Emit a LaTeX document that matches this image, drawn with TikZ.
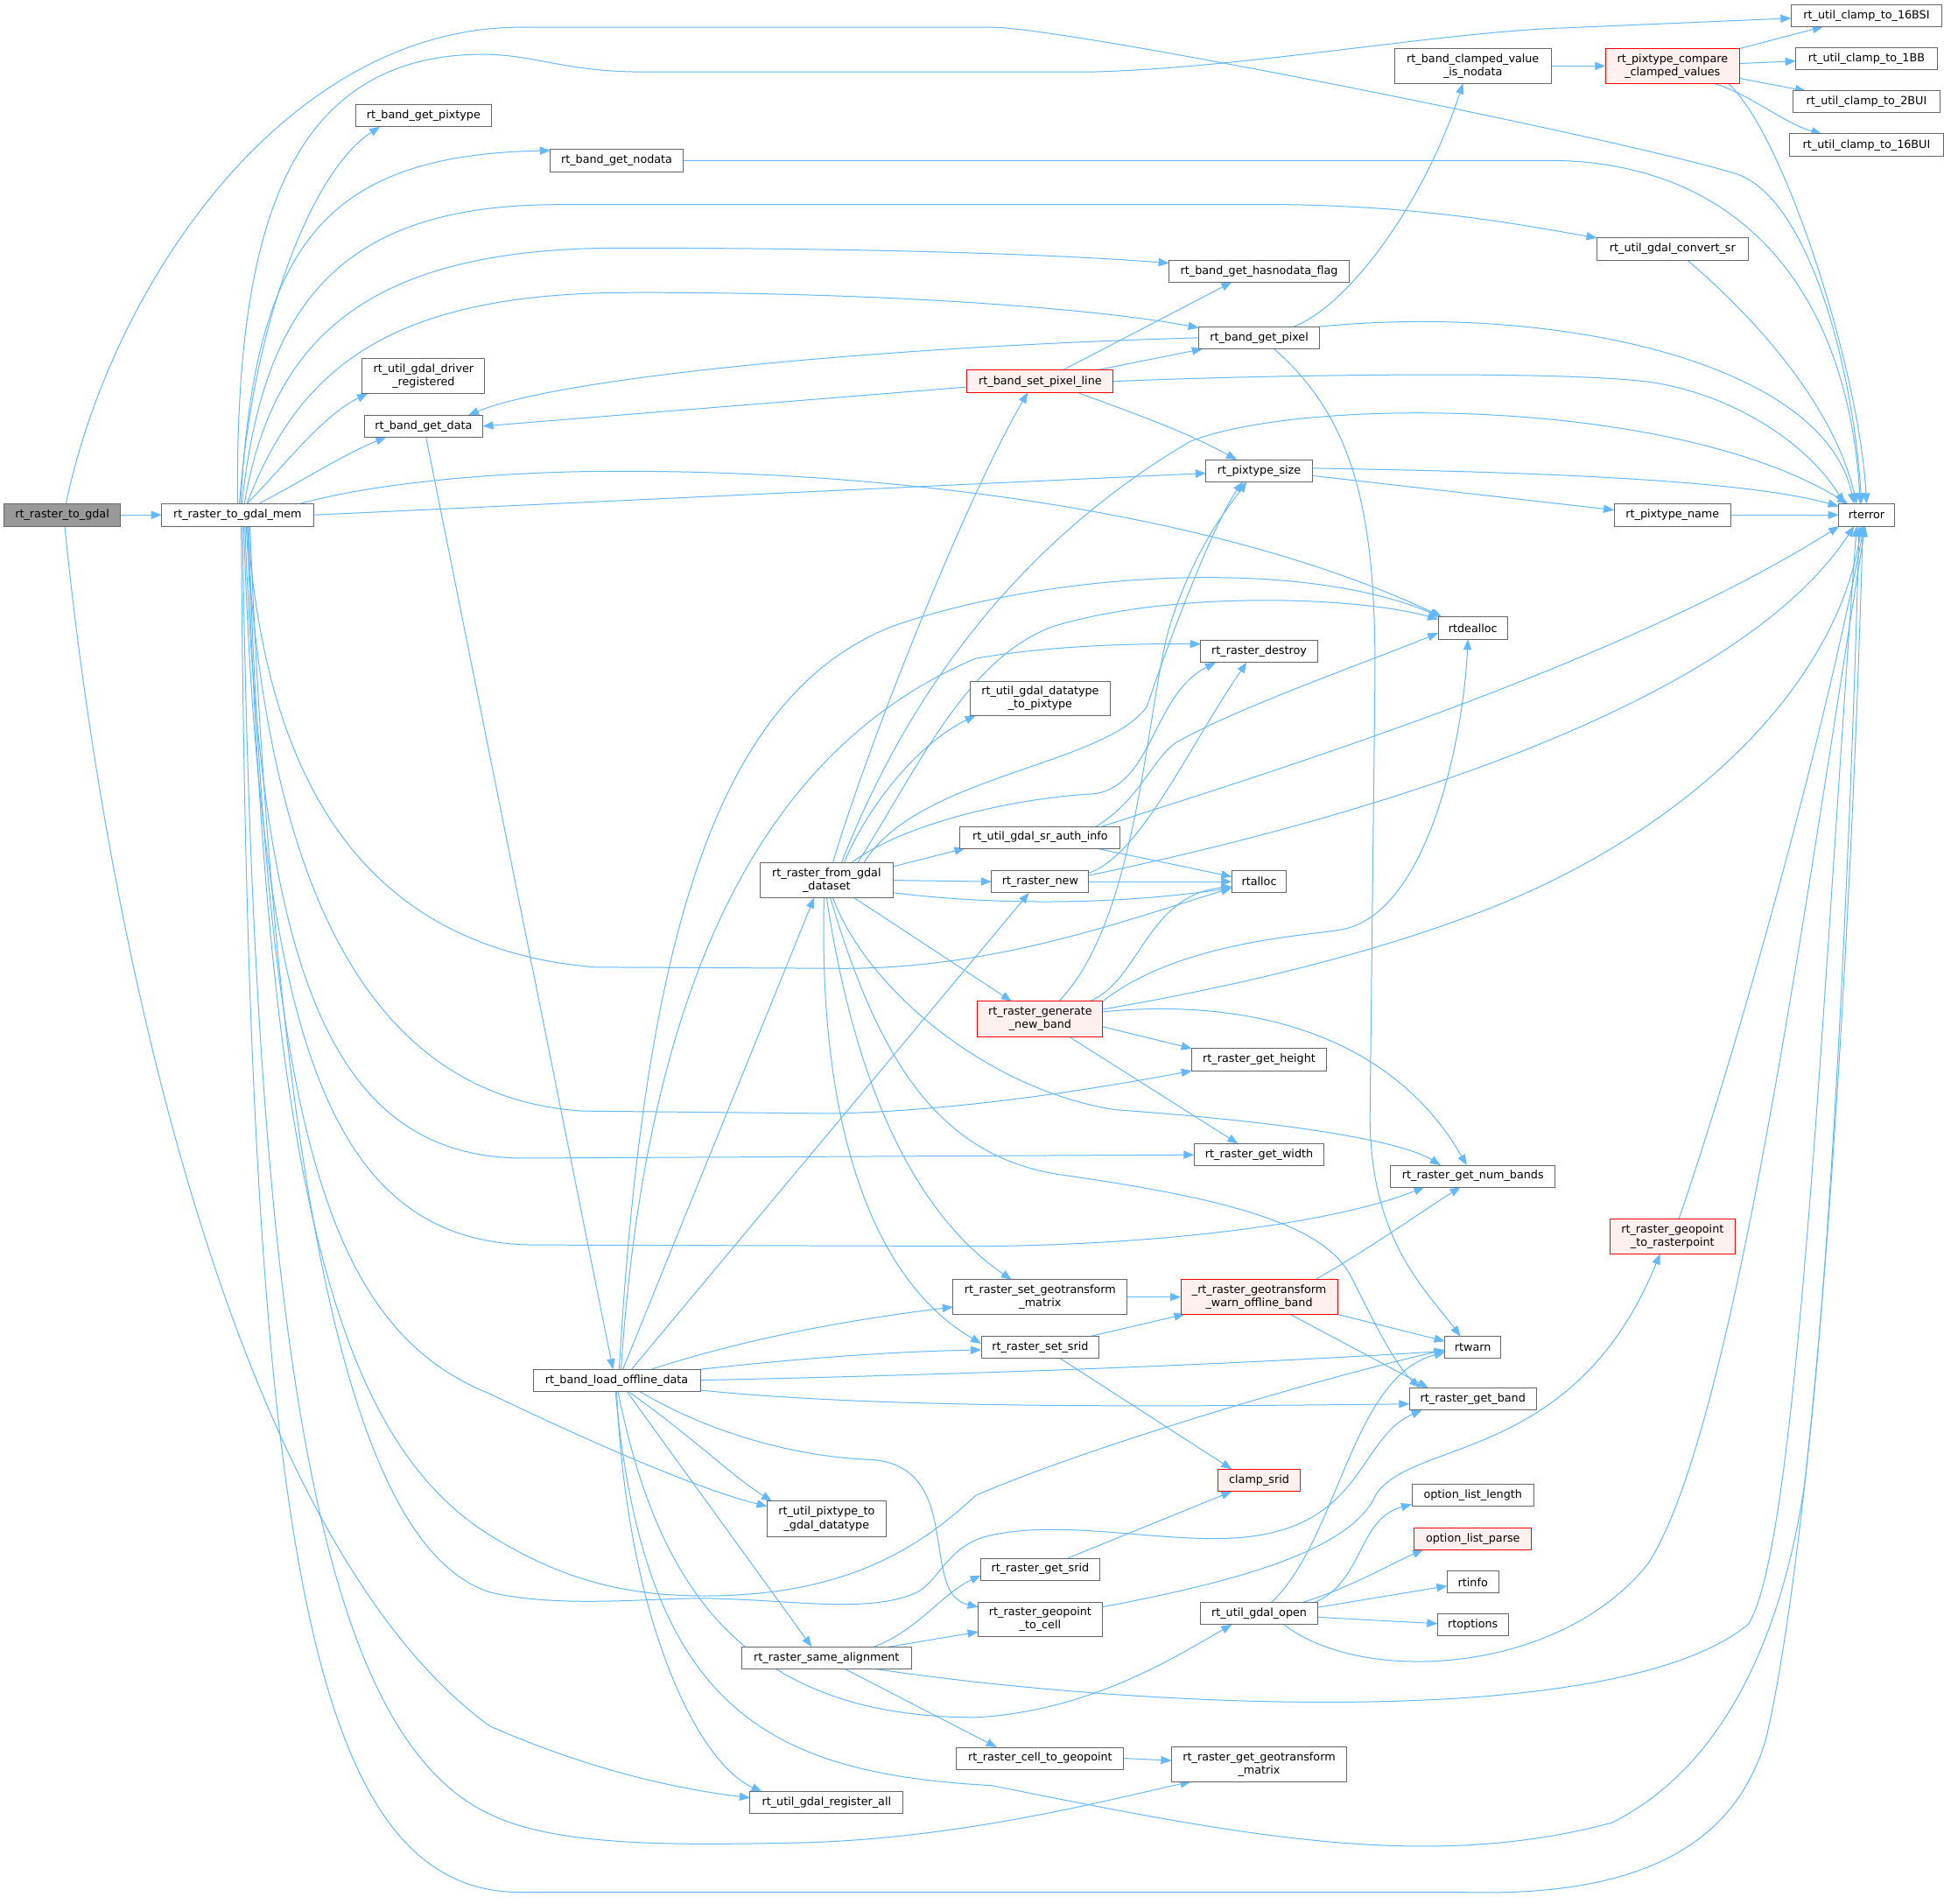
\documentclass[tikz,border=0pt]{standalone}
\usepackage{fontspec}
\setmainfont{DejaVu Sans}
\usetikzlibrary{arrows.meta}
\definecolor{edgec}{HTML}{63B8FF}
\definecolor{nodeb}{HTML}{666666}
\definecolor{rootf}{HTML}{999999}
\definecolor{redf}{HTML}{FFF0F0}
\pgfdeclarelayer{back}
\pgfdeclarelayer{bg}
\pgfsetlayers{back,bg,main}
\begin{document}
\begin{tikzpicture}[x=1pt,y=-1pt,
  nb/.style={draw=nodeb, fill=white, line width=0.7pt, inner sep=0pt, outer sep=0pt,
    font=\fontsize{9}{10.8}\selectfont, align=center, text=black},
  rootn/.style={nb, fill=rootf},
  redn/.style={nb, draw=red, fill=redf},
  ed/.style={draw=edgec, line width=0.7pt, -{Triangle[length=8.5pt,width=6.5pt]}},
]
\useasboundingbox (0,0) rectangle (1568,1535);
% ---------------- nodes ----------------
\node[rootn, minimum width=93.8pt, minimum height=18pt] (togdal) at (50.2,415.3) {rt\_raster\_to\_gdal};
\node[nb, minimum width=122.5pt, minimum height=18pt] (mem) at (191.6,415.3) {rt\_raster\_to\_gdal\_mem};
\node[nb, minimum width=109.4pt, minimum height=18pt] (pixtype) at (341.6,93.2) {rt\_band\_get\_pixtype};
\node[nb, minimum width=107pt, minimum height=18pt] (nodata) at (497.4,129.4) {rt\_band\_get\_nodata};
\node[nb, minimum width=99pt, minimum height=28pt] (drvreg) at (341.6,303.4) {rt\_util\_gdal\_driver\\\_registered};
\node[nb, minimum width=95.6pt, minimum height=17.6pt] (getdata) at (341.6,343.7) {rt\_band\_get\_data};
\node[nb, minimum width=134.8pt, minimum height=17.6pt] (load) at (497.4,1113.1) {rt\_band\_load\_offline\_data};
\node[nb, minimum width=106.9pt, minimum height=28pt] (fromds) at (666.7,709.9) {rt\_raster\_from\_gdal\\\_dataset};
\node[nb, minimum width=95.7pt, minimum height=28.4pt] (px2dt) at (666.7,1224.9) {rt\_util\_pixtype\_to\\\_gdal\_datatype};
\node[nb, minimum width=136.7pt, minimum height=17.9pt] (samealign) at (666.7,1337.1) {rt\_raster\_same\_alignment};
\node[nb, minimum width=123.4pt, minimum height=17.7pt] (regall) at (666.7,1453.9) {rt\_util\_gdal\_register\_all};
\node[redn, minimum width=118pt, minimum height=18pt] (setpix) at (839,307.6) {rt\_band\_set\_pixel\_line};
\node[nb, minimum width=112.9pt, minimum height=27.7pt] (dt2px) at (839,563.1) {rt\_util\_gdal\_datatype\\\_to\_pixtype};
\node[nb, minimum width=129.2pt, minimum height=17.6pt] (srauth) at (839,675.3) {rt\_util\_gdal\_sr\_auth\_info};
\node[nb, minimum width=78.4pt, minimum height=18pt] (rnew) at (839,711) {rt\_raster\_new};
\node[redn, minimum width=100.9pt, minimum height=29pt] (genband) at (839,822) {rt\_raster\_generate\\\_new\_band};
\node[nb, minimum width=140.5pt, minimum height=27.8pt] (setgt) at (839,1046) {rt\_raster\_set\_geotransform\\\_matrix};
\node[nb, minimum width=95pt, minimum height=17.7pt] (setsrid) at (839,1086.6) {rt\_raster\_set\_srid};
\node[nb, minimum width=95.7pt, minimum height=17.6pt] (getsrid) at (839,1265.5) {rt\_raster\_get\_srid};
\node[nb, minimum width=99.9pt, minimum height=28pt] (geo2cell) at (839,1306) {rt\_raster\_geopoint\\\_to\_cell};
\node[nb, minimum width=134.8pt, minimum height=17.7pt] (cell2geo) at (839,1418) {rt\_raster\_cell\_to\_geopoint};
\node[nb, minimum width=145.2pt, minimum height=17.6pt] (hasnd) at (1015.6,218.7) {rt\_band\_get\_hasnodata\_flag};
\node[nb, minimum width=97.3pt, minimum height=18pt] (getpix) at (1015.6,272.4) {rt\_band\_get\_pixel};
\node[nb, minimum width=85.7pt, minimum height=17.6pt] (pxsize) at (1015.6,379.6) {rt\_pixtype\_size};
\node[nb, minimum width=94.3pt, minimum height=17.7pt] (destroy) at (1015.6,525.4) {rt\_raster\_destroy};
\node[nb, minimum width=44.1pt, minimum height=18pt] (rtalloc) at (1015.6,711) {rtalloc};
\node[nb, minimum width=108.4pt, minimum height=17.9pt] (height) at (1015.6,854.6) {rt\_raster\_get\_height};
\node[nb, minimum width=104.8pt, minimum height=17.9pt] (width) at (1015.6,931.3) {rt\_raster\_get\_width};
\node[redn, minimum width=126.4pt, minimum height=27.8pt] (warnoff) at (1015.6,1046) {\_rt\_raster\_geotransform\\\_warn\_offline\_band};
\node[redn, minimum width=66.1pt, minimum height=17.9pt] (clampsrid) at (1015.6,1193.8) {clamp\_srid};
\node[nb, minimum width=95.1pt, minimum height=17.9pt] (gdalopen) at (1015.6,1301.2) {rt\_util\_gdal\_open};
\node[nb, minimum width=141.4pt, minimum height=28.1pt] (getgt) at (1015.6,1422.8) {rt\_raster\_get\_geotransform\\\_matrix};
\node[nb, minimum width=126.2pt, minimum height=28pt] (clampnd) at (1188,53.2) {rt\_band\_clamped\_value\\\_is\_nodata};
\node[nb, minimum width=56pt, minimum height=18pt] (rtdealloc) at (1188,506.5) {rtdealloc};
\node[nb, minimum width=132.9pt, minimum height=17.6pt] (nbands) at (1188,948.5) {rt\_raster\_get\_num\_bands};
\node[nb, minimum width=45.2pt, minimum height=17.7pt] (rtwarn) at (1188,1086.6) {rtwarn};
\node[nb, minimum width=102.2pt, minimum height=17.9pt] (getband) at (1188,1128.2) {rt\_raster\_get\_band};
\node[nb, minimum width=98.4pt, minimum height=17.6pt] (optlen) at (1188,1206.1) {option\_list\_length};
\node[redn, minimum width=94.8pt, minimum height=17.7pt] (optparse) at (1188,1241) {option\_list\_parse};
\node[nb, minimum width=41.4pt, minimum height=17.7pt] (rtinfo) at (1188,1276) {rtinfo};
\node[nb, minimum width=57pt, minimum height=18pt] (rtoptions) at (1188,1310.4) {rtoptions};
\node[redn, minimum width=108pt, minimum height=28pt] (cmp) at (1349,53.2) {rt\_pixtype\_compare\\\_clamped\_values};
\node[nb, minimum width=121.8pt, minimum height=18pt] (convsr) at (1349,200.9) {rt\_util\_gdal\_convert\_sr};
\node[nb, minimum width=94.2pt, minimum height=18pt] (pxname) at (1349,415.3) {rt\_pixtype\_name};
\node[redn, minimum width=100.6pt, minimum height=27.8pt] (geo2rp) at (1349,997.3) {rt\_raster\_geopoint\\\_to\_rasterpoint};
\node[nb, minimum width=121.6pt, minimum height=17.6pt] (c16bsi) at (1505.5,12.7) {rt\_util\_clamp\_to\_16BSI};
\node[nb, minimum width=114pt, minimum height=17.6pt] (c1bb) at (1505.5,47.3) {rt\_util\_clamp\_to\_1BB};
\node[nb, minimum width=118pt, minimum height=17.7pt] (c2bui) at (1505.5,82.2) {rt\_util\_clamp\_to\_2BUI};
\node[nb, minimum width=123.8pt, minimum height=18pt] (c16bui) at (1505.5,117) {rt\_util\_clamp\_to\_16BUI};
\node[nb, minimum width=45pt, minimum height=18pt] (rterror) at (1505.5,415.3) {rterror};
% ---------------- edges ----------------
\begin{pgfonlayer}{back}
\fill[white] (0,0) rectangle (1568,1535);
\end{pgfonlayer}
\begin{pgfonlayer}{bg}
% rt_raster_to_gdal
\draw[ed] (togdal.east) -- (mem.west);
\draw[ed] ([xshift=3]togdal.north) .. controls (90,230) and (230,22) .. (420,22) -- (800,22) .. controls (860,22) and (1300,110) .. (1400,140) .. controls (1460,160) and (1495,300) .. ([xshift=-4]rterror.north);
\draw[ed] ([xshift=2]togdal.south) .. controls (90,800) and (200,1250) .. (395,1392) .. controls (470,1425) and (540,1442) .. ([yshift=4]regall.west);
% rt_raster_to_gdal_mem, upper fan
\draw[ed] (mem.north) .. controls (190,200) and (225,50) .. (380,44) .. controls (430,42) and (450,58) .. (520,58) -- (880,58) .. controls (1000,55) and (1150,28) .. (1250,23) -- ([yshift=-2]c16bsi.west);
\draw[ed] ([xshift=1.5]mem.north) .. controls (205,250) and (255,135) .. ([xshift=-35]pixtype.south);
\draw[ed] ([xshift=2.5]mem.north) .. controls (205,200) and (260,125) .. ([yshift=8]nodata.west);
\draw[ed] ([xshift=3.5]mem.north) .. controls (212,250) and (270,165) .. (450,165) -- (1040,165) .. controls (1150,167) and (1220,180) .. (convsr.north west);
\draw[ed] ([xshift=5.5]mem.north) .. controls (220,270) and (300,200) .. (500,200) .. controls (700,200) and (850,205) .. ([yshift=6.5]hasnd.west);
\draw[ed] ([xshift=7.5]mem.north) .. controls (240,300) and (310,238) .. (500,236) .. controls (700,235) and (880,248) .. ([yshift=8]getpix.west);
\draw[ed] ([xshift=7.5]mem.north) .. controls (230,375) and (260,335) .. ([xshift=-45]drvreg.south);
\draw[ed] ([xshift=17]mem.north) .. controls (240,390) and (280,365) .. ([xshift=-30]getdata.south);
\draw[ed] ([xshift=50]mem.north) .. controls (300,390) and (400,380) .. (500,380) .. controls (750,380) and (1000,420) .. ([xshift=3]rtdealloc.north west);
\draw[ed] (mem.east) -- ([yshift=-2]pxsize.west);
% rt_raster_to_gdal_mem, lower fan
\draw[ed] ([xshift=8]mem.south) .. controls (215,640) and (300,765) .. (480,780) -- (680,781) .. controls (800,781) and (900,745) .. ([yshift=-5]rtalloc.west);
\draw[ed] ([xshift=7]mem.south) .. controls (215,720) and (300,885) .. (470,896) -- (670,898) .. controls (780,896) and (900,875) .. (height.south west);
\draw[ed] ([xshift=6]mem.south) .. controls (210,780) and (265,932) .. (420,934) -- (width.west);
\draw[ed] ([xshift=5]mem.south) .. controls (210,850) and (270,1002) .. (430,1004) -- (800,1005) .. controls (950,1003) and (1080,985) .. ([xshift=-39]nbands.south);
\draw[ed] ([xshift=9]mem.south) .. controls (215,900) and (260,1070) .. (395,1124) .. controls (470,1160) and (560,1200) .. ([yshift=10]px2dt.west);
\draw[ed] ([xshift=8]mem.south) .. controls (215,950) and (270,1160) .. (395,1238) .. controls (450,1272) and (500,1287) .. (568,1287) .. controls (680,1287) and (740,1250) .. (787,1206) .. controls (870,1170) and (1050,1115) .. ([yshift=-2]rtwarn.west);
\draw[ed] ([xshift=10]mem.south) .. controls (225,1000) and (290,1250) .. (395,1284) .. controls (450,1297) and (520,1289) .. (568,1289) .. controls (640,1290) and (700,1302) .. (740,1284) .. controls (760,1272) and (765,1245) .. (800,1238) .. controls (860,1225) and (940,1245) .. (1000,1240) .. controls (1100,1232) and (1095,1160) .. ([xshift=-41]getband.south);
\draw[ed] ([xshift=4]mem.south) .. controls (205,1100) and (260,1400) .. (395,1463) .. controls (450,1490) and (550,1488) .. (650,1486) .. controls (780,1482) and (900,1450) .. ([xshift=-55]getgt.south);
\draw[ed] ([xshift=3]mem.south) .. controls (200,1250) and (250,1526) .. (420,1526) -- (1180,1526) .. controls (1320,1530) and (1400,1490) .. (1425,1400) .. controls (1470,1200) and (1495,700) .. ([xshift=-3]rterror.south);
% rt_band_get_data
\draw[ed] ([xshift=2]getdata.south) -- ([xshift=-3]load.north);
% rt_band_get_pixel
\draw[ed] (getpix.west) .. controls (700,280) and (450,305) .. ([xshift=36]getdata.north);
\draw[ed] ([xshift=28]getpix.north) .. controls (1090,245) and (1150,160) .. ([xshift=-8]clampnd.south);
\draw[ed] (getpix.north east) .. controls (1250,245) and (1470,290) .. ([xshift=-10]rterror.north);
\draw[ed] ([xshift=12]getpix.south) .. controls (1095,340) and (1110,420) .. (1109,550) -- (1105,900) .. controls (1105,1000) and (1150,1040) .. ([xshift=-10]rtwarn.north);
% rt_band_set_pixel_line
\draw[ed] ([yshift=-4.5]setpix.west) -- (getdata.east);
\draw[ed] ([xshift=18]setpix.north) -- ([xshift=-22]hasnd.south);
\draw[ed] ([xshift=45]setpix.north) -- ([xshift=3]getpix.south west);
\draw[ed] (setpix.east) .. controls (1000,303) and (1250,298) .. (1330,308) .. controls (1400,318) and (1460,360) .. ([xshift=-18]rterror.north);
\draw[ed] ([xshift=30]setpix.south) .. controls (920,335) and (960,350) .. ([xshift=-18]pxsize.north);
% rt_pixtype_size etc.
\draw[ed] ([yshift=2]pxsize.east) .. controls (1200,380) and (1400,385) .. ([yshift=7]rterror.west);
\draw[ed] ([yshift=-4]pxsize.east) -- ([yshift=4]pxname.west);
\draw[ed] (pxname.east) -- (rterror.west);
\draw[ed] ([xshift=12]convsr.south) .. controls (1420,260) and (1480,330) .. ([xshift=-8]rterror.north);
\draw[ed] (nodata.east) -- (1250,129.4) .. controls (1400,130) and (1490,230) .. ([xshift=-5]rterror.north);
% clamped values
\draw[ed] (clampnd.east) -- (cmp.west);
\draw[ed] (cmp.north east) -- ([xshift=-35]c16bsi.south);
\draw[ed] ([yshift=2]cmp.east) -- ([yshift=-2]c1bb.west);
\draw[ed] ([yshift=-10]cmp.east) -- ([xshift=-49]c2bui.north);
\draw[ed] ([xshift=33]cmp.south) .. controls (1410,75) and (1440,100) .. ([xshift=-36]c16bui.north);
\draw[ed] ([xshift=45]cmp.south) .. controls (1440,110) and (1500,300) .. (rterror.north);
% rt_band_load_offline_data
\draw[ed] ([xshift=5]load.north) -- ([xshift=-10]fromds.south);
\draw[ed] ([xshift=2]load.north) .. controls (520,750) and (580,560) .. (720,505) .. controls (850,460) and (1050,450) .. ([xshift=2]rtdealloc.north west);
\draw[ed] ([xshift=3.5]load.north) .. controls (520,820) and (600,610) .. (787,531) .. controls (850,520) and (920,519) .. ([yshift=6]destroy.west);
\draw[ed] ([xshift=12]load.north) -- ([xshift=-9]rnew.south);
\draw[ed] ([xshift=28]load.north) .. controls (600,1080) and (680,1065) .. ([yshift=-8]setgt.west);
\draw[ed] (load.north east) .. controls (650,1095) and (720,1090) .. ([yshift=-2]setsrid.west);
\draw[ed] (load.east) .. controls (800,1108) and (1000,1100) .. ([yshift=-3]rtwarn.west);
\draw[ed] ([yshift=-8]load.east) .. controls (700,1135) and (900,1135) .. ([yshift=-4]getband.west);
\draw[ed] ([xshift=9]load.south) .. controls (560,1160) and (590,1190) .. ([xshift=-44]px2dt.north);
\draw[ed] ([xshift=8]load.south) -- ([xshift=-12]samealign.north);
\draw[ed] ([xshift=18]load.south) .. controls (580,1160) and (650,1175) .. (700,1177) .. controls (780,1180) and (740,1285) .. ([yshift=10]geo2cell.west);
\draw[ed] ([xshift=1]load.south) .. controls (530,1280) and (600,1385) .. (787,1385) .. controls (880,1380) and (950,1335) .. ([xshift=-22]gdalopen.south);
\draw[ed] (load.south) .. controls (505,1300) and (560,1420) .. ([xshift=-52]regall.north);
\draw[ed] ([xshift=-1]load.south) .. controls (520,1380) and (620,1430) .. (800,1440) .. controls (1000,1480) and (1150,1510) .. (1300,1470) .. controls (1400,1420) and (1440,1300) .. (1455,1200) .. controls (1480,1000) and (1495,600) .. ([xshift=-6]rterror.south);
% rt_raster_from_gdal_dataset
\draw[ed] ([xshift=5]fromds.north) .. controls (700,600) and (780,400) .. ([xshift=-10]setpix.south);
\draw[ed] ([xshift=12]fromds.north) .. controls (720,590) and (800,450) .. (960,356) .. controls (1050,320) and (1350,320) .. ([xshift=-15]rterror.north);
\draw[ed] ([xshift=14]fromds.north) .. controls (700,650) and (740,600) .. ([xshift=-52]dt2px.south);
\draw[ed] ([xshift=25]fromds.north) .. controls (740,620) and (780,530) .. (850,505) .. controls (950,475) and (1100,482) .. ([yshift=7]rtdealloc.west);
\draw[ed] ([xshift=20]fromds.north) .. controls (720,670) and (800,645) .. (884,640) .. controls (930,632) and (930,560) .. ([xshift=-35]destroy.south);
\draw[ed] ([xshift=30]fromds.north) .. controls (740,625) and (890,618) .. (925,570) .. controls (945,510) and (980,420) .. ([xshift=-13]pxsize.south);
\draw[ed] ([yshift=-3]fromds.north east) -- ([xshift=4]srauth.south west);
\draw[ed] (fromds.east) -- (rnew.west);
\draw[ed] ([yshift=-10]fromds.east) .. controls (800,730) and (900,730) .. ([yshift=-5]rtalloc.west);
\draw[ed] ([xshift=22]fromds.south) -- ([xshift=-23]genband.north);
\draw[ed] ([xshift=5]fromds.south) .. controls (700,800) and (800,880) .. (900,895) .. controls (1040,905) and (1130,920) .. ([xshift=-26]nbands.north);
\draw[ed] ([xshift=3]fromds.south) .. controls (710,860) and (760,935) .. (860,948) .. controls (1000,968) and (1070,990) .. (1090,1030) .. controls (1110,1070) and (1125,1100) .. ([xshift=-43]getband.north);
\draw[ed] (fromds.south) .. controls (690,880) and (740,980) .. ([xshift=-23]setgt.north);
\draw[ed] ([xshift=-2]fromds.south) .. controls (660,900) and (700,1030) .. ([yshift=3]setsrid.west);
% rt_util_gdal_sr_auth_info
\draw[ed] ([xshift=45]srauth.north) .. controls (920,645) and (930,610) .. (950,598) .. controls (1000,570) and (1100,535) .. ([yshift=-4]rtdealloc.west);
\draw[ed] ([xshift=45]srauth.south) -- ([yshift=4]rtalloc.west);
\draw[ed] ([xshift=50]srauth.north) .. controls (1000,630) and (1300,540) .. ([xshift=-22]rterror.south);
% rt_raster_new
\draw[ed] (rnew.east) -- (rtalloc.west);
\draw[ed] ([yshift=7]rnew.east) .. controls (920,690) and (960,600) .. ([xshift=-10]destroy.south);
\draw[ed] ([yshift=5]rnew.east) .. controls (1100,660) and (1400,570) .. ([xshift=-10]rterror.south);
% rt_raster_generate_new_band
\draw[ed] ([xshift=40]genband.north) .. controls (920,790) and (925,722) .. ([yshift=-4]rtalloc.west);
\draw[ed] (genband.north east) .. controls (950,760) and (1050,755) .. (1080,750) .. controls (1150,740) and (1180,600) .. ([xshift=-4]rtdealloc.south);
\draw[ed] ([yshift=8]genband.east) .. controls (1000,795) and (1100,770) .. (1179,741) .. controls (1350,680) and (1480,560) .. ([xshift=-4]rterror.south);
\draw[ed] ([xshift=15]genband.north) .. controls (920,740) and (925,560) .. (945,500) .. controls (965,440) and (990,410) .. ([xshift=-10]pxsize.south);
\draw[ed] ([yshift=-6]genband.east) -- (height.north west);
\draw[ed] ([xshift=24]genband.south) -- ([xshift=-17]width.north);
\draw[ed] ([yshift=6]genband.east) .. controls (1000,805) and (1120,830) .. ([xshift=-5]nbands.north);
% geotransform / srid
\draw[ed] (setgt.east) -- (warnoff.west);
\draw[ed] ([xshift=40]setsrid.north) -- ([xshift=-60]warnoff.south);
\draw[ed] ([xshift=16]setsrid.south) -- ([xshift=-22]clampsrid.north);
\draw[ed] ([xshift=45]warnoff.north) .. controls (1100,1010) and (1150,975) .. ([xshift=-10]nbands.south);
\draw[ed] ([yshift=-14]warnoff.east) -- ([yshift=5]rtwarn.west);
\draw[ed] ([xshift=25]warnoff.south) -- ([xshift=-36]getband.north);
\draw[ed] ([xshift=22]getsrid.north) -- ([xshift=-22]clampsrid.south);
\draw[ed] ([yshift=10]geo2cell.east) .. controls (1000,1275) and (1090,1250) .. (1110,1205) .. controls (1140,1160) and (1270,1180) .. ([xshift=-10]geo2rp.south);
\draw[ed] ([xshift=5]geo2rp.north) .. controls (1400,850) and (1470,600) .. ([xshift=-2]rterror.south);
% rt_util_gdal_open
\draw[ed] ([xshift=45]gdalopen.north) .. controls (1100,1275) and (1095,1225) .. ([yshift=-7]optlen.west);
\draw[ed] ([xshift=35]gdalopen.north) .. controls (1090,1280) and (1120,1262) .. ([xshift=-40]optparse.south);
\draw[ed] ([yshift=5]gdalopen.east) -- ([yshift=-3]rtinfo.west);
\draw[ed] ([yshift=-3]gdalopen.east) -- ([yshift=1]rtoptions.west);
\draw[ed] ([xshift=10]gdalopen.north) .. controls (1080,1240) and (1090,1110) .. ([yshift=-4]rtwarn.west);
\draw[ed] ([xshift=20]gdalopen.south) .. controls (1100,1360) and (1260,1350) .. (1330,1260) .. controls (1400,1150) and (1460,700) .. ([xshift=-1]rterror.south);
% rt_raster_same_alignment
\draw[ed] ([xshift=38]samealign.north) .. controls (740,1315) and (760,1285) .. ([yshift=-5]getsrid.west);
\draw[ed] ([xshift=50]samealign.north) -- ([yshift=-10]geo2cell.west);
\draw[ed] ([xshift=15]samealign.south) -- ([xshift=-35]cell2geo.north);
\draw[ed] ([xshift=40]samealign.south) .. controls (900,1375) and (1300,1400) .. (1410,1310) .. controls (1450,1250) and (1470,800) .. ([xshift=-8]rterror.south);
\draw[ed] (cell2geo.east) -- ([yshift=3]getgt.west);
\end{pgfonlayer}
\end{tikzpicture}
\end{document}
